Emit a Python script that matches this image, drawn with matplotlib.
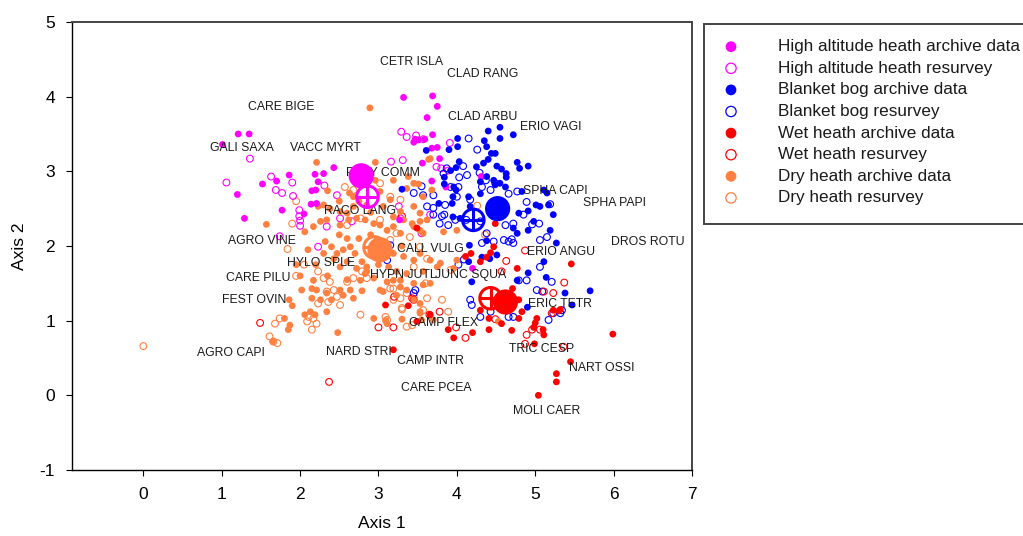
import numpy as np
import matplotlib
matplotlib.use('Agg')
import matplotlib.pyplot as plt

plt.rcParams['font.family'] = ['Liberation Sans', 'DejaVu Sans']
plt.rcParams['axes.unicode_minus'] = False

# ---- data ----
ha_archive = np.array([
    (3.32, 3.99), (3.62, 3.72), (3.59, 3.43), (1.21, 3.50), (1.35, 3.50), (1.01, 3.36), (2.43, 3.05),
    (1.86, 2.95), (2.19, 2.96), (2.30, 2.97), (1.52, 2.83), (1.70, 2.87), (2.23, 2.86), (1.20, 2.69),
    (2.15, 2.74), (2.20, 2.75), (2.14, 2.56), (2.21, 2.57), (1.77, 2.48), (2.05, 2.43), (1.29, 2.37),
    (3.47, 3.43), (3.69, 4.01), (3.75, 3.87), (3.45, 3.39), (3.51, 3.42), (3.69, 3.49), (3.68, 3.31),
    (3.75, 3.32), (3.78, 3.17), (3.56, 3.11), (3.68, 2.87), (3.86, 2.79), (4.31, 2.93), (3.27, 2.35),
    (4.20, 1.70)])
ha_resurvey = np.array([
    (3.29, 3.53), (3.36, 3.46), (3.48, 3.48), (3.57, 3.43), (1.36, 3.17), (1.06, 2.85), (1.63, 2.93),
    (1.69, 2.75), (1.77, 2.71), (1.90, 2.85), (1.91, 2.67), (2.47, 2.68), (3.16, 3.13), (3.31, 3.15),
    (2.31, 2.81), (1.99, 2.48), (3.26, 2.53), (3.91, 3.38), (3.74, 3.06), (3.80, 3.04), (3.89, 3.01),
    (1.99, 2.40), (2.00, 2.34), (2.00, 2.27), (1.74, 2.13), (2.23, 1.99), (2.34, 2.26), (2.51, 2.37),
    (2.66, 2.33), (3.28, 2.37), (3.55, 2.17), (3.66, 2.42)])
bb_archive = np.array([
    (4.40, 3.54), (4.55, 3.59), (4.72, 3.49), (4.55, 3.44), (4.01, 3.44), (4.01, 3.33), (3.90, 3.29),
    (4.35, 3.41), (4.38, 3.33), (3.61, 3.28), (4.44, 3.24), (4.49, 3.24), (4.40, 3.16), (4.03, 3.13),
    (3.99, 3.05), (3.92, 3.01), (4.25, 3.06), (4.34, 3.11), (4.51, 3.07), (4.57, 3.03), (4.63, 2.97),
    (4.63, 2.92), (4.77, 3.12), (4.91, 3.07), (4.80, 3.04), (3.84, 2.92), (3.84, 2.83), (3.96, 2.79),
    (3.99, 2.75), (3.95, 2.66), (4.30, 2.86), (4.38, 2.93), (4.47, 2.88), (4.49, 2.82), (4.55, 2.84),
    (4.62, 2.79), (4.15, 2.66), (4.30, 2.70), (3.77, 2.57), (4.17, 2.53), (3.95, 2.39), (4.79, 2.44),
    (4.91, 2.47), (5.01, 2.55), (5.06, 2.53), (5.17, 2.55), (5.23, 2.42), (5.11, 2.75), (5.15, 2.71),
    (4.83, 2.73), (3.94, 2.57), (4.04, 2.37), (4.98, 2.33), (4.91, 2.21), (4.77, 2.17), (4.72, 2.24),
    (5.19, 2.21), (4.16, 2.01), (4.38, 2.07), (4.15, 1.79), (4.32, 1.85), (4.42, 1.83), (4.51, 1.88),
    (4.19, 1.52), (4.77, 1.54), (4.91, 1.64), (5.11, 1.79), (5.14, 1.58), (5.38, 1.37), (5.70, 1.40),
    (5.47, 1.21), (4.90, 1.18), (5.27, 2.04), (3.30, 2.76)])
bb_resurvey = np.array([
    (4.15, 3.44), (4.26, 3.29), (4.08, 3.07), (4.13, 2.95), (4.03, 2.92), (4.02, 2.79), (3.92, 2.79),
    (3.87, 3.04), (3.83, 2.97), (4.29, 2.98), (4.37, 2.88), (4.32, 2.79), (4.43, 2.75), (4.49, 2.84),
    (3.55, 2.80), (3.45, 2.71), (3.57, 2.68), (3.70, 2.68), (3.62, 2.53), (3.70, 2.51), (3.81, 2.40),
    (4.00, 2.66), (4.17, 2.62), (4.66, 2.70), (4.77, 2.73), (4.89, 2.59), (5.19, 2.56), (3.70, 2.42),
    (3.85, 2.55), (3.84, 2.42), (3.78, 2.30), (3.89, 2.28), (3.98, 2.35), (4.12, 2.35), (4.30, 2.33),
    (4.38, 2.17), (4.32, 2.04), (4.47, 2.06), (4.60, 2.08), (4.66, 2.06), (4.72, 2.04), (4.70, 2.09),
    (4.62, 2.28), (4.72, 2.30), (4.85, 2.42), (4.96, 2.29), (5.05, 2.30), (5.06, 1.72), (5.21, 1.52),
    (5.02, 1.41), (5.09, 1.39), (5.32, 1.10), (5.34, 1.14), (5.17, 1.01), (5.23, 1.10), (4.89, 1.54),
    (4.79, 1.54), (4.17, 1.28), (4.19, 1.21), (4.30, 1.05), (4.43, 1.12), (4.66, 1.05), (4.72, 1.05),
    (3.47, 1.41), (3.45, 1.37), (4.09, 1.82), (4.02, 1.75), (3.15, 2.01), (3.11, 1.81), (5.06, 2.08),
    (5.15, 2.12)])
wh_archive = np.array([
    (3.49, 2.24), (4.49, 2.30), (4.47, 1.99), (4.43, 1.91), (4.38, 1.85), (4.30, 1.79), (4.18, 1.90),
    (4.11, 1.86), (4.77, 1.70), (4.71, 1.43), (4.79, 1.28), (4.83, 1.12), (5.46, 1.76), (5.23, 1.14),
    (5.30, 1.13), (5.32, 1.15), (5.02, 1.03), (5.00, 0.97), (4.98, 0.91), (4.30, 1.14), (4.41, 1.03),
    (4.57, 0.96), (4.41, 0.88), (4.70, 0.87), (4.79, 1.03), (3.89, 0.88), (3.96, 0.77), (4.20, 0.84),
    (5.10, 0.88), (5.11, 0.81), (5.99, 0.82), (4.99, 0.69), (5.45, 0.45), (5.27, 0.29), (5.27, 0.18),
    (5.04, 0.00), (3.19, 0.61), (3.49, 0.99), (3.66, 1.08), (3.09, 1.21), (3.38, 1.20)])
wh_resurvey = np.array([
    (4.63, 1.80), (4.87, 1.94), (5.37, 1.51), (5.23, 1.37), (5.11, 1.39), (4.57, 1.66), (3.78, 1.12),
    (3.65, 1.08), (3.43, 1.30), (3.20, 1.32), (4.11, 0.77), (3.99, 0.91), (4.49, 1.02), (4.89, 0.81),
    (4.96, 0.88), (5.06, 0.88), (5.21, 1.10), (4.87, 0.69), (5.36, 0.65), (3.19, 0.91), (1.49, 0.97),
    (3.00, 0.91), (3.45, 1.28), (3.30, 2.40), (2.37, 0.18)])
dh_archive = np.array([
    (2.89, 3.85), (2.21, 3.12), (2.96, 3.12), (3.64, 3.16), (2.35, 2.74), (2.63, 2.71), (2.68, 2.66),
    (3.36, 2.77), (3.51, 2.83), (3.57, 2.66), (2.23, 2.53), (2.30, 2.55), (2.38, 2.50), (2.51, 2.46),
    (2.60, 2.44), (2.68, 2.53), (3.06, 2.53), (3.15, 2.62), (3.28, 2.46), (3.45, 2.53), (3.53, 2.44),
    (2.96, 2.88), (3.02, 2.73), (3.66, 3.17), (3.19, 2.88), (3.45, 2.84), (3.68, 2.75), (3.38, 2.93),
    (1.57, 2.29), (2.32, 2.06), (2.06, 2.19), (2.17, 2.26), (2.26, 2.33), (2.34, 2.35), (2.51, 2.28),
    (2.62, 2.35), (2.72, 2.37), (2.83, 2.35), (2.94, 2.30), (3.02, 2.28), (3.11, 2.21), (3.19, 2.26),
    (3.28, 2.17), (3.45, 2.26), (3.53, 2.33), (3.62, 2.35), (2.40, 1.99), (2.47, 1.90), (2.55, 1.95),
    (2.64, 1.99), (2.70, 1.90), (2.79, 1.79), (2.85, 1.72), (2.83, 1.63), (2.72, 1.70), (2.60, 1.79),
    (2.51, 1.72), (2.43, 1.83), (3.13, 1.72), (3.23, 1.66), (3.11, 1.52), (3.19, 1.54), (3.28, 1.45),
    (3.02, 1.41), (2.17, 1.54), (2.02, 1.41), (2.15, 1.43), (2.21, 1.41), (2.34, 1.37), (2.51, 1.41),
    (2.64, 1.41), (2.68, 1.30), (2.79, 1.40), (2.55, 1.34), (2.40, 1.28), (2.26, 1.28), (2.15, 1.30),
    (1.86, 1.28), (2.06, 1.08), (2.13, 1.12), (2.19, 1.08), (2.34, 1.12), (1.80, 1.03), (1.85, 0.88),
    (1.87, 0.94), (1.65, 0.72), (2.48, 0.84), (2.94, 1.03), (3.09, 1.00), (3.30, 1.02), (3.53, 1.12),
    (3.55, 1.01), (3.06, 1.39), (3.23, 1.34), (3.36, 1.41), (3.45, 1.28), (3.53, 1.23), (2.85, 1.66),
    (2.94, 1.57), (2.77, 1.54), (3.11, 1.99), (3.19, 1.90), (3.32, 1.86), (3.45, 1.81), (3.53, 1.90),
    (3.66, 1.81), (3.75, 1.72), (3.57, 1.66), (3.36, 1.63), (3.28, 1.54), (3.45, 1.50), (3.57, 1.48),
    (3.66, 1.50), (3.96, 1.70), (3.79, 1.77), (4.00, 1.81), (3.53, 1.10), (3.70, 1.01), (3.11, 0.96),
    (4.53, 0.99), (3.32, 2.35), (3.19, 2.39), (3.43, 2.30), (3.53, 2.21), (3.57, 2.17), (3.83, 2.19),
    (4.00, 2.21), (2.75, 2.10), (2.90, 2.15), (3.00, 2.05), (2.60, 2.10), (2.85, 2.55), (2.75, 2.60),
    (2.50, 2.60), (2.90, 2.45), (3.30, 2.00), (3.00, 1.75), (2.95, 1.85), (2.50, 2.15), (2.20, 1.75),
    (2.30, 1.90), (2.10, 1.95), (1.95, 1.75), (2.00, 1.60), (2.35, 1.60), (2.60, 1.55), (1.90, 1.20)])
dh_resurvey = np.array([
    (0.00, 0.66), (1.61, 0.79), (1.66, 0.72), (1.71, 0.70), (1.74, 1.03), (1.68, 0.96), (1.84, 1.96),
    (2.23, 1.66), (2.30, 1.57), (2.38, 1.52), (2.34, 1.39), (2.43, 1.41), (2.47, 1.32), (2.36, 1.25),
    (2.51, 1.21), (2.23, 1.23), (2.11, 1.05), (2.17, 1.03), (2.21, 0.96), (2.15, 0.88), (2.09, 0.99),
    (2.60, 1.52), (2.68, 1.57), (2.79, 1.66), (2.85, 1.57), (2.60, 2.28), (2.77, 2.37), (3.02, 2.35),
    (3.15, 2.08), (3.23, 2.17), (3.40, 2.12), (3.53, 1.99), (3.62, 1.83), (2.77, 1.08), (3.11, 1.01),
    (3.30, 1.15), (3.28, 1.30), (3.19, 1.43), (3.45, 1.33), (3.43, 0.94), (3.36, 0.92), (3.45, 1.72),
    (3.60, 1.50), (2.57, 2.79), (2.68, 2.75), (3.15, 2.66), (3.28, 2.62), (3.02, 2.84), (3.15, 1.43),
    (3.36, 1.37), (3.19, 1.28), (3.30, 1.17), (3.62, 1.30), (3.57, 1.14), (3.89, 1.12), (3.81, 1.28),
    (3.09, 1.05), (3.92, 1.68), (4.26, 2.54), (4.36, 2.15), (1.95, 2.60), (1.90, 2.30), (2.05, 1.75),
    (1.95, 1.60)])

# group centroids: archive (filled) and resurvey (crossed circle)
centroid_archive = {'ha': (2.78, 2.94), 'bb': (4.52, 2.50), 'wh': (4.62, 1.25), 'dh': (3.02, 1.95)}
centroid_resurvey = {'ha': (2.86, 2.66), 'bb': (4.21, 2.35), 'wh': (4.43, 1.30), 'dh': (2.95, 1.98)}

species = ['CETR ISLA', 'CLAD RANG', 'CARE BIGE', 'GALI SAXA', 'VACC MYRT', 'POLY COMM', 'RACO LANG',
           'CLAD ARBU', 'ERIO VAGI', 'SPHA CAPI', 'SPHA PAPI', 'AGRO VINE', 'CALL VULG', 'HYLO SPLE',
           'HYPN JUTL', 'JUNC SQUA', 'CARE PILU', 'ERIO ANGU', 'DROS ROTU', 'FEST OVIN', 'ERIC TETR',
           'CAMP FLEX', 'AGRO CAPI', 'NARD STRI', 'CAMP INTR', 'TRIC CESP', 'NART OSSI', 'CARE PCEA',
           'MOLI CAER']
species_x = [3.02, 3.87, 1.34, 0.85, 1.87, 2.59, 2.31, 3.89, 4.81, 4.85, 5.61, 1.08, 3.24, 1.83,
             2.89, 3.72, 1.06, 4.90, 5.97, 1.01, 4.91, 3.39, 0.68, 2.33, 3.24, 4.67, 5.43, 3.29, 4.72]
species_y = [4.46, 4.30, 3.86, 3.31, 3.31, 2.98, 2.47, 3.73, 3.59, 2.74, 2.58, 2.07, 1.96, 1.77,
             1.61, 1.61, 1.57, 1.92, 2.05, 1.28, 1.22, 0.97, 0.57, 0.58, 0.46, 0.62, 0.37, 0.10, -0.21]

groups = ['ha', 'bb', 'wh', 'dh']
colors = {'ha': '#FF00FF', 'bb': '#0000FF', 'wh': '#FF0000', 'dh': '#FF8040'}
archive = {'ha': ha_archive, 'bb': bb_archive, 'wh': wh_archive, 'dh': dh_archive}
resurvey = {'ha': ha_resurvey, 'bb': bb_resurvey, 'wh': wh_resurvey, 'dh': dh_resurvey}
legend_labels = ['High altitude heath archive data', 'High altitude heath resurvey',
                 'Blanket bog archive data', 'Blanket bog resurvey',
                 'Wet heath archive data', 'Wet heath resurvey',
                 'Dry heath archive data', 'Dry heath resurvey']

W, H = 1023, 536
fig = plt.figure(figsize=(W / 100, H / 100), dpi=100)
ax = fig.add_axes([72 / W, 1 - 470 / H, (692 - 72) / W, (470 - 22) / H])

for g in ['dh', 'ha', 'bb', 'wh']:
    r = resurvey[g]
    ax.scatter(r[:, 0], r[:, 1], s=24, facecolors='none', edgecolors=colors[g], linewidths=0.8, zorder=2)
for g in ['dh', 'ha', 'bb', 'wh']:
    a = archive[g]
    ax.scatter(a[:, 0], a[:, 1], s=24, color=colors[g], edgecolors='none', zorder=2.1)

for name, x, y in zip(species, species_x, species_y):
    ax.text(x, y, name, fontsize=8.8, color='#1a1a1a', ha='left', va='center', zorder=3)

for g in groups:
    cx, cy = centroid_resurvey[g]
    ax.scatter([cx], [cy], s=240, facecolors='none', edgecolors=colors[g], linewidths=2.2, zorder=4)
    ax.scatter([cx], [cy], s=240, marker='+', color=colors[g], linewidths=2.2, zorder=4)
for g in groups:
    cx, cy = centroid_archive[g]
    ax.scatter([cx], [cy], s=330, color=colors[g], edgecolors='none', zorder=4.5)

ax.set_xlim(-0.91, 7)
ax.set_ylim(-1, 5)
ax.set_xticks(range(0, 8))
ax.set_yticks(range(-1, 6))
ax.tick_params(direction='out', length=4.3, width=0.8, labelsize=12.5, pad=8, top=False, right=False)
for s in ['left', 'bottom']:
    ax.spines[s].set_linewidth(1.0)
    ax.spines[s].set_color('black')
for s in ['top', 'right']:
    ax.spines[s].set_linewidth(1.4)
    ax.spines[s].set_color('#444444')
ax.set_xlabel('Axis 1', fontsize=12.5, labelpad=10)
ax.set_ylabel('Axis 2', fontsize=12.5, labelpad=9)

# legend box drawn by hand so it sits like the original (clipped at the right edge)
lx0, ly0, ly1 = 704, 24, 224
lax = fig.add_axes([lx0 / W, 1 - ly1 / H, (W + 20 - lx0) / W, (ly1 - ly0) / H])
lax.set_xlim(0, W + 20 - lx0)
lax.set_ylim(ly1 - ly0, 0)
lax.set_xticks([])
lax.set_yticks([])
for s in lax.spines.values():
    s.set_linewidth(1.4)
    s.set_color('#444444')
for i, label in enumerate(legend_labels):
    g = groups[i // 2]
    yy = 22.7 + i * 21.6
    if i % 2 == 0:
        lax.scatter([27], [yy], s=60, color=colors[g], edgecolors='none')
    else:
        lax.scatter([27], [yy], s=55, facecolors='none', edgecolors=colors[g], linewidths=0.9)
    lax.text(74, yy, label, fontsize=12.3, va='center', ha='left', color='#1a1a1a')

fig.savefig('out.png', dpi=100)
